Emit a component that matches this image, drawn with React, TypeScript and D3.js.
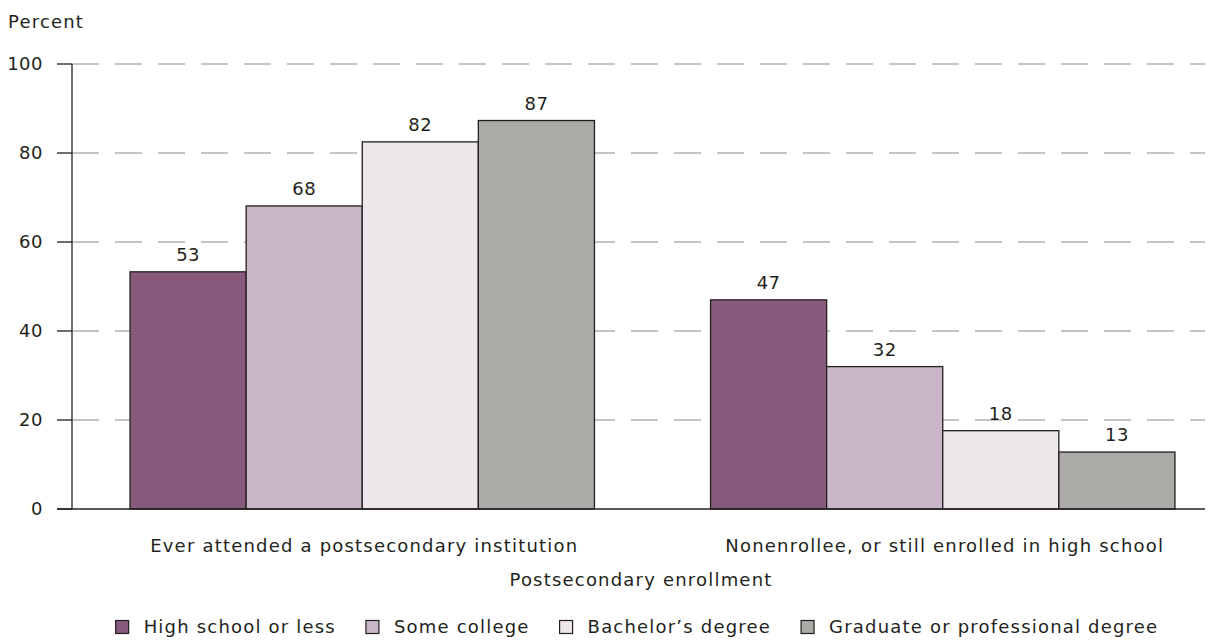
import React, { useEffect, useRef } from "react";
import * as d3 from "d3";

const groups = ["Ever attended a postsecondary institution", "Nonenrollee, or still enrolled in high school"];
const seriesNames = ["High school or less", "Some college", "Bachelor’s degree", "Graduate or professional degree"];
const highSchool = [53.3, 47.0];
const someCollege = [68.1, 32.0];
const bachelors = [82.5, 17.6];
const graduate = [87.3, 12.8];
const valueLabels = [["53", "68", "82", "87"], ["47", "32", "18", "13"]];
const yTicks = [0, 20, 40, 60, 80, 100];
const colors = ["#875a7b", "#c9b7c8", "#ede6eb", "#abaaa6"];

const W = 1213;
const H = 641;
const FONT = "'DejaVu Sans', sans-serif";
const FS = 18;
const LS = 1.2;

export default function App() {
  const ref = useRef<SVGSVGElement | null>(null);

  useEffect(() => {
    const svg = d3.select(ref.current);
    svg.selectAll("*").remove();

    const left = 72, right = 1233, top = 64, bottom = 509, gridEnd = 1205;
    const series = [highSchool, someCollege, bachelors, graduate];

    const txt = (sel: any) =>
      sel.attr("font-family", FONT).attr("font-size", FS).attr("letter-spacing", LS).attr("fill", "#231f20");

    const x0 = d3.scaleBand<string>().domain(groups).range([left, right]).paddingInner(0.2).paddingOuter(0.1);
    const x1 = d3.scaleBand<string>().domain(seriesNames).range([0, x0.bandwidth()]).padding(0);
    const y = d3.scaleLinear().domain([0, 100]).range([bottom, top]);

    // gridlines
    svg.append("g").selectAll("line").data(yTicks.filter((t) => t > 0)).join("line")
      .attr("x1", left).attr("x2", gridEnd)
      .attr("y1", (d) => y(d)).attr("y2", (d) => y(d))
      .attr("stroke", "#b3b3b3").attr("stroke-width", 1.3)
      .attr("stroke-dasharray", "27,16");

    // bars
    groups.forEach((g, gi) => {
      const gEl = svg.append("g");
      seriesNames.forEach((s, si) => {
        const v = series[si][gi];
        const bx = (x0(g) as number) + (x1(s) as number);
        gEl.append("rect")
          .attr("x", bx).attr("y", y(v))
          .attr("width", x1.bandwidth()).attr("height", y(0) - y(v))
          .attr("fill", colors[si]).attr("stroke", "#231f20").attr("stroke-width", 1.3);
        txt(gEl.append("text")
          .attr("x", bx + x1.bandwidth() / 2).attr("y", y(v) - 11)
          .attr("text-anchor", "middle")).attr("letter-spacing", 0.5).text(valueLabels[gi][si]);
      });
      txt(svg.append("text")
        .attr("x", (x0(g) as number) + x0.bandwidth() / 2 + 2).attr("y", 552)
        .attr("text-anchor", "middle")).text(g);
    });

    // axes
    svg.append("line").attr("x1", left).attr("x2", left).attr("y1", top).attr("y2", bottom)
      .attr("stroke", "#231f20").attr("stroke-width", 1.3);
    svg.append("line").attr("x1", 57).attr("x2", gridEnd).attr("y1", bottom).attr("y2", bottom)
      .attr("stroke", "#231f20").attr("stroke-width", 1.3);
    const ticks = svg.append("g");
    ticks.selectAll("line").data(yTicks).join("line")
      .attr("x1", 57).attr("x2", left).attr("y1", (d) => y(d)).attr("y2", (d) => y(d))
      .attr("stroke", "#231f20").attr("stroke-width", 1.3);
    txt(ticks.selectAll("text").data(yTicks).join("text")
      .attr("x", 43).attr("y", (d) => y(d)).attr("dy", "0.35em")
      .attr("text-anchor", "end")).attr("letter-spacing", 0.5).text((d) => String(d));

    txt(svg.append("text").attr("x", 8).attr("y", 28)).text("Percent");
    txt(svg.append("text").attr("x", 641).attr("y", 586).attr("text-anchor", "middle")).text("Postsecondary enrollment");

    // legend
    const lg = svg.append("g");
    const items = seriesNames.map((s, i) => {
      const item = lg.append("g");
      item.append("rect").attr("x", 0).attr("y", -6.5).attr("width", 13).attr("height", 13)
        .attr("fill", colors[i]).attr("stroke", "#231f20").attr("stroke-width", 1.2);
      const t = txt(item.append("text").attr("x", 28).attr("y", 0).attr("dy", "0.35em")).text(s);
      const w = 28 + (t.node() as SVGTextElement).getComputedTextLength();
      return { item, w };
    });
    const gap = 30;
    const total = d3.sum(items, (d) => d.w) + gap * (items.length - 1);
    let cx = 637 - total / 2;
    items.forEach(({ item, w }) => {
      item.attr("transform", `translate(${cx},627)`);
      cx += w + gap;
    });
  }, []);

  return (
    <svg ref={ref} width={W} height={H}
      style={{ position: "absolute", left: 0, top: 0, background: "#fff" }} />
  );
}
